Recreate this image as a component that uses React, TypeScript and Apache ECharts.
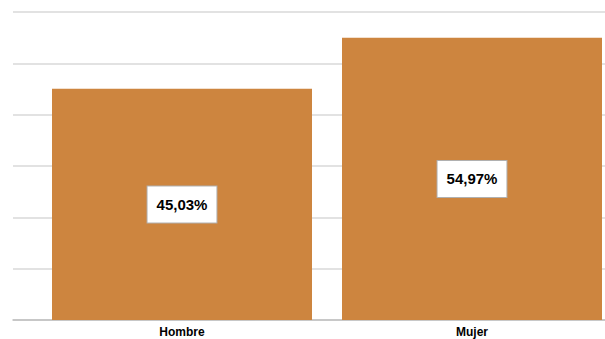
import React, { useEffect, useRef } from "react";
import * as echarts from "echarts";

const categories = ["Hombre", "Mujer"];
const values = [45.03, 54.97];
const valueLabels = ["45,03%", "54,97%"];

export default function App() {
  const ref = useRef<HTMLDivElement>(null);
  useEffect(() => {
    const chart = echarts.init(ref.current!, null, { renderer: "svg" });
    chart.setOption({
      animation: false,
      grid: [
        { left: 13, right: 20, top: 12, bottom: 19 },
        { left: 37, right: 8, top: 12, bottom: 19 },
      ],
      xAxis: [
        {
          gridIndex: 0,
          type: "category",
          data: ["", ""],
          axisLine: { show: true, lineStyle: { color: "#bfbfbf", width: 1.5 } },
          axisTick: { show: false },
          axisLabel: { show: false },
        },
        {
          gridIndex: 1,
          type: "category",
          data: categories,
          axisLine: { show: false },
          axisTick: { show: false },
          axisLabel: {
            color: "#000",
            fontFamily: "Liberation Sans, Arial, sans-serif",
            fontWeight: "bold",
            fontSize: 12,
            margin: 6,
          },
        },
      ],
      yAxis: [
        {
          gridIndex: 0,
          type: "value",
          min: 0,
          max: 60,
          interval: 10,
          axisLabel: { show: false },
          axisLine: { show: false },
          axisTick: { show: false },
          splitLine: { lineStyle: { color: "#d9d9d9", width: 1.5 } },
        },
        {
          gridIndex: 1,
          type: "value",
          min: 0,
          max: 60,
          interval: 10,
          axisLabel: { show: false },
          axisLine: { show: false },
          axisTick: { show: false },
          splitLine: { show: false },
        },
      ],
      series: [
        {
          type: "bar",
          xAxisIndex: 1,
          yAxisIndex: 1,
          data: values,
          barWidth: 260,
          itemStyle: { color: "#CD853F" },
          label: {
            show: true,
            position: "inside",
            formatter: (p: any) => valueLabels[p.dataIndex],
            color: "#000",
            fontFamily: "Liberation Sans, Arial, sans-serif",
            fontWeight: "bold",
            fontSize: 15,
            backgroundColor: "#fff",
            borderColor: "#b0b0b0",
            borderWidth: 1,
            padding: [11, 9, 10, 9],
          },
        },
      ],
    });
    return () => chart.dispose();
  }, []);
  return (
    <div style={{ position: "absolute", left: 0, top: 0, width: 605, height: 339, overflow: "hidden" }}>
      <div ref={ref} style={{ width: 625, height: 339, position: "absolute", left: 0, top: 0 }} />
    </div>
  );
}
